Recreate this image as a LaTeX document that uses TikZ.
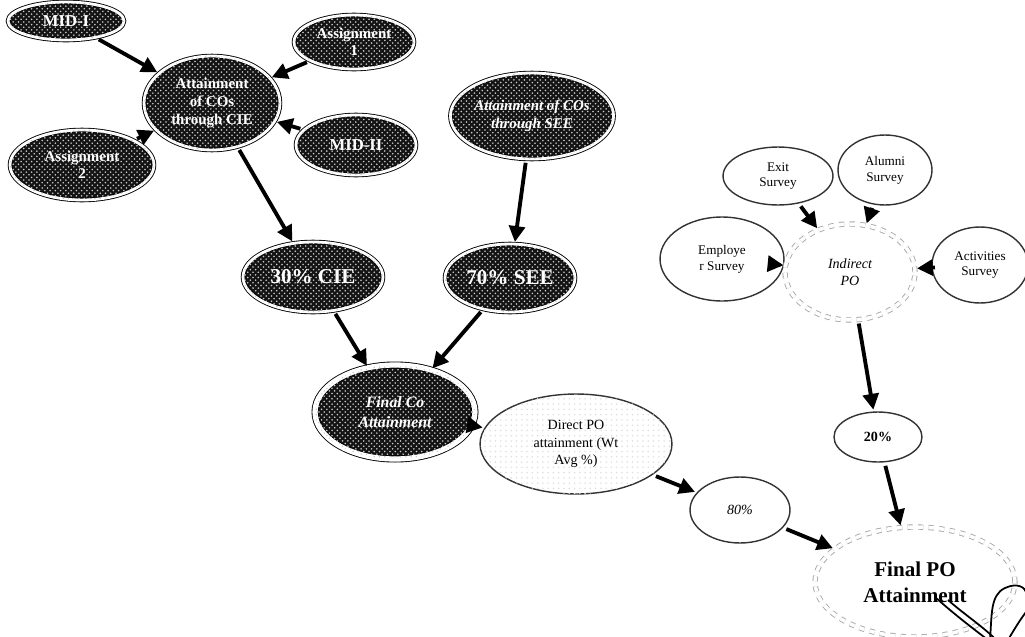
\documentclass[tikz,border=0pt]{standalone}
\usepackage{fontspec}
\setmainfont{Liberation Serif}
\usetikzlibrary{shapes.geometric,arrows.meta,patterns}
\begin{document}
\begin{tikzpicture}[x=0.02cm,y=-0.02cm,
  sz/.style 2 args={minimum width=#1*0.04cm, minimum height=#2*0.04cm},
  darknode/.style={ellipse, inner sep=0pt, fill=black!92, draw=black, line width=0.5pt,
     double=white, double distance=1.6pt,
     postaction={pattern=crosshatch dots, pattern color=gray!40},
     text=white, font=\bfseries, align=center},
  lightnode/.style={ellipse, inner sep=0pt, fill=white, draw=black!80, line width=0.8pt,
     align=center, font=\fontsize{7.5}{9}\selectfont},
  dblnode/.style={ellipse, inner sep=0pt, fill=white, draw=gray!70, line width=0.5pt,
     double=white, double distance=2pt, dashed, align=center},
  arr/.style={-{Triangle[length=9pt,width=9pt]}, line width=2.2pt, black, shorten >=1pt, shorten <=2pt}
]
\useasboundingbox (0,0) rectangle (1025,636);

% dark nodes
\node[darknode, sz={58}{19}, font=\bfseries\fontsize{9.5}{10}\selectfont] (mid1) at (66,21) {MID-I};
\node[darknode, sz={60}{27}, font=\bfseries\fontsize{8.5}{10}\selectfont] (as1) at (354,42) {Assignment\\1};
\node[darknode, sz={68}{47}, font=\bfseries\fontsize{8.5}{10}\selectfont] (cie) at (212,103) {Attainment\\of COs\\through CIE};
\node[darknode, sz={72}{35}, font=\bfseries\fontsize{8.5}{10}\selectfont] (as2) at (82,165) {Assignment\\2};
\node[darknode, sz={60}{30}, font=\bfseries\fontsize{9.5}{10}\selectfont] (mid2) at (356,145) {MID-II};
\node[darknode, sz={72}{43}, font=\bfseries\itshape\fontsize{8.5}{10}\selectfont] (see) at (532,116) {Attainment of COs\\through SEE};
\node[darknode, sz={70}{35}, font=\bfseries\fontsize{12}{13}\selectfont] (c30) at (313,277) {30\% CIE};
\node[darknode, sz={65}{34}, font=\bfseries\fontsize{12}{13}\selectfont] (s70) at (510,278) {70\% SEE};
\node[darknode, sz={80}{47}, double distance=3pt, font=\bfseries\itshape\fontsize{9}{11}\selectfont] (fco) at (395,412) {Final Co\\Attainment};

% light nodes
\node[lightnode, sz={96}{50}, font=\fontsize{8}{10}\selectfont,
      postaction={pattern=dots, pattern color=gray!25}] (dpo) at (576,444) {Direct PO\\attainment (Wt\\Avg \%)};
\node[lightnode, sz={50}{33}, font=\fontsize{8}{9}\selectfont\itshape] (p80) at (740,510) {80\%};
\node[lightnode, sz={44}{25}, font=\fontsize{8}{9}\selectfont\bfseries] (p20) at (878,437) {20\%};
\node[lightnode, sz={55}{29}] (exit) at (778,176) {Exit\\Survey};
\node[lightnode, sz={47}{35}] (alum) at (885,170) {Alumni\\Survey};
\node[lightnode, sz={62}{42}] (empl) at (722,259) {Employe\\r Survey};
\node[lightnode, sz={48}{38}] (act) at (980,265) {Activities\\Survey};
\node[dblnode, sz={65}{48}, font=\itshape\fontsize{8}{10}\selectfont] (ipo) at (850,272) {Indirect\\PO};
\node[dblnode, sz={100}{55}, font=\bfseries\fontsize{12}{15}\selectfont] (fpo) at (915,582) {Final PO\\Attainment};

% decoration at bottom right
\draw[line width=1pt] (935,597) .. controls (955,615) and (975,630) .. (988,640);
\draw[line width=1pt] (948,600) .. controls (965,615) and (985,628) .. (996,640);
\draw[line width=1pt] (990,640) .. controls (992,615) and (990,595) .. (1005,588)
      .. controls (1018,582) and (1025,588) .. (1026,592);
\draw[line width=1pt] (1008,640) .. controls (1015,628) and (1020,620) .. (1026,612);

% arrows
\draw[arr] (mid1) -- (cie);
\draw[arr] (as1) -- (cie);
\draw[arr] (as2) -- (cie);
\draw[arr] (mid2) -- (cie);
\draw[arr] (cie) -- (c30);
\draw[arr] (see) -- (s70);
\draw[arr] (c30) -- (fco);
\draw[arr] (s70) -- (fco);
\draw[arr] (fco) -- (dpo);
\draw[arr] (dpo) -- (p80);
\draw[arr] (p80) -- (fpo);
\draw[arr] (ipo) -- (p20);
\draw[arr] (p20) -- (fpo);
\draw[arr] (exit) -- (ipo);
\draw[arr] (alum) -- (ipo);
\draw[arr] (empl) -- (ipo);
\draw[arr] (act) -- (ipo);
\end{tikzpicture}
\end{document}
